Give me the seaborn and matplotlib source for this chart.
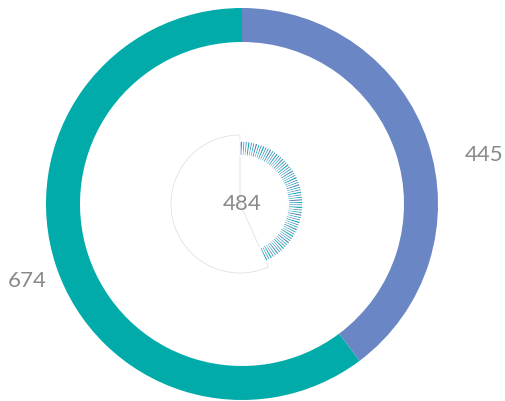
import matplotlib.pyplot as plt
import seaborn as sns

# outer ring
outer_labels = ["445", "674"]
outer_values = [445, 674]
outer_colors = ["#6a86c4", "#00aba9"]

# inner ring: small slices making up 484, the rest left empty
inner_total = 484
inner_rest = 635
inner_slices = [
    8, 7, 7, 8, 7, 7, 8, 7, 7, 8, 7,
    7, 8, 7, 7, 8, 7, 7, 8, 7, 7, 8,
    7, 7, 8, 7, 7, 8, 7, 7, 8, 7, 7,
    8, 7, 7, 8, 7, 7, 8, 7, 7, 8, 7,
    7, 8, 7, 7, 8, 7, 7, 8, 7, 7, 8,
    7, 7, 8, 7, 7, 8, 7, 7, 8, 7, 7,
]
inner_colors = ["#6a86c4", "#19b2ae"]

sns.set_theme(style="white")
plt.rcParams["font.family"] = ["Lato", "DejaVu Sans"]

W, H = 505, 401
fig = plt.figure(figsize=(W / 100, H / 100), dpi=100)
ax = fig.add_axes([0, 0, 1, 1])

cx, cy = 242, H - 204

ax.pie(
    outer_values,
    colors=outer_colors,
    startangle=90,
    counterclock=False,
    radius=196,
    center=(cx, cy),
    wedgeprops=dict(width=34, linewidth=0),
)

# empty part of the inner circle, outlined
rest_wedges, _ = ax.pie(
    [inner_total, inner_rest],
    startangle=90,
    counterclock=False,
    radius=69,
    center=(cx - 2, cy),
    colors=["none", "white"],
    wedgeprops=dict(linewidth=0.5, edgecolor="#dcdcdc"),
)
rest_wedges[0].set_edgecolor("none")

seg_colors = [inner_colors[i % 2] for i in range(len(inner_slices))]
seg_wedges, _ = ax.pie(
    inner_slices + [inner_rest],
    colors=seg_colors + ["none"],
    startangle=90,
    counterclock=False,
    radius=63,
    center=(cx - 2, cy),
    wedgeprops=dict(width=15, linewidth=0.95, edgecolor="white"),
)
seg_wedges[-1].set_edgecolor("none")

text_kw = dict(color="#8a8a8a", fontsize=16, va="center")
ax.text(484, H - 155, outer_labels[0], ha="center", **text_kw)
ax.text(27, H - 281, outer_labels[1], ha="center", **text_kw)
ax.text(cx, cy, str(inner_total), ha="center", **text_kw)

ax.set_xlim(0, W)
ax.set_ylim(0, H)
ax.set_aspect("equal")
ax.axis("off")

fig.savefig("out.png", dpi=100)
